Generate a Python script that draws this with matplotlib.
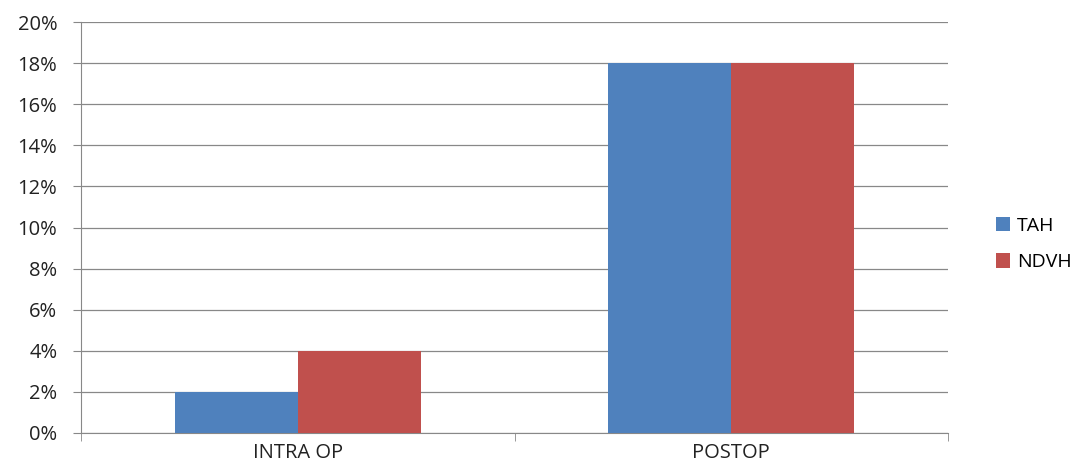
import matplotlib.pyplot as plt
from matplotlib.ticker import FixedLocator

categories = ['INTRA OP', 'POSTOP']
tah = [2, 18]
ndvh = [4, 18]
yticks = list(range(0, 21, 2))

plt.rcParams['font.family'] = ['Open Sans', 'DejaVu Sans']

fig = plt.figure(figsize=(10.77, 4.68), dpi=100)
ax = fig.add_axes([81 / 1077, 35 / 468, 867 / 1077, 411 / 468])

x = range(len(categories))
w = 0.2834
ax.bar([i - w / 2 for i in x], tah, w, color='#4F81BD', label='TAH', zorder=3)
ax.bar([i + w / 2 for i in x], ndvh, w, color='#C0504D', label='NDVH', zorder=3)

ax.set_xlim(-0.5, len(categories) - 0.5)
ax.set_ylim(0, 20)
ax.set_yticks(yticks)
ax.set_yticklabels([f'{t}%' for t in yticks], fontsize=14.5, color='#222222')
ax.set_xticks(list(x))
ax.set_xticklabels(categories, fontsize=14.5, color='#222222')
ax.tick_params(axis='x', which='major', length=0, pad=7)
ax.xaxis.set_minor_locator(FixedLocator([i - 0.5 for i in range(len(categories) + 1)]))
ax.tick_params(axis='x', which='minor', length=6, color='#888888')
ax.tick_params(axis='y', length=6, color='#888888', pad=11)

ax.grid(True, axis='y', color='#888888', linewidth=0.9, zorder=0)
for s in ['top', 'right']:
    ax.spines[s].set_visible(False)
for s in ['left', 'bottom']:
    ax.spines[s].set_color('#888888')

ax.legend(loc='center left', bbox_to_anchor=(1.035, 0.46), frameon=False,
          fontsize=14, handlelength=0.75, handleheight=0.75, labelspacing=0.95,
          handletextpad=0.35)

fig.savefig('out.png', dpi=100)
